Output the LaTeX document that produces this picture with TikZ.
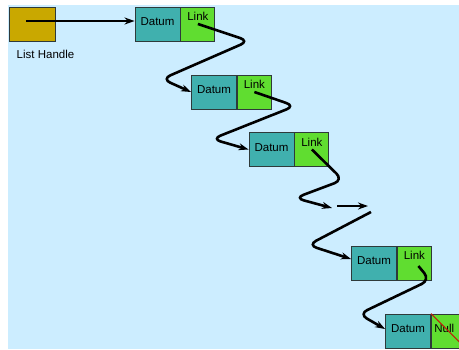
\documentclass[tikz,border=0pt]{standalone}
\usepackage{fontspec}
\setmainfont{Liberation Sans}
\usepackage{tikz}
\usetikzlibrary{arrows.meta}
\definecolor{llsky}{HTML}{CCEDFF}
\definecolor{llhandle}{HTML}{C9A800}
\definecolor{lldatum}{HTML}{40B0AE}
\definecolor{lllink}{HTML}{60DD30}
\definecolor{llink}{HTML}{2E3A3A}
\definecolor{llnull}{HTML}{C0200A}

\begin{document}
\begin{tikzpicture}[
  x=1pt, y=-1pt,
  cell/.style      = {rectangle, draw=llink, line width=0.9pt, inner xsep=0pt,
                      inner ysep=2pt, minimum height=34pt,
                      font=\fontsize{11.5}{13}\selectfont},
  handlebox/.style = {cell, fill=llhandle, minimum width=46pt},
  datum/.style     = {cell, fill=lldatum, minimum width=45pt,
                      text height=8pt, text depth=4.5pt},
  link/.style      = {cell, fill=lllink, minimum width=34pt, anchor=west,
                      text height=8pt, text depth=15pt},
  nullbox/.style   = {cell, fill=lllink, anchor=west, align=left,
                      text width=28pt, inner xsep=3pt,
                      text height=8pt, text depth=4.5pt},
  hop/.style       = {-{Stealth[length=10pt,width=7pt]}, draw=black,
                      line width=2.6pt, rounded corners=9pt},
  lab/.style       = {font=\fontsize{11.5}{13}\selectfont, inner sep=0pt},
]
\useasboundingbox (0,0) rectangle (459,349);
\clip (0,0) rectangle (459,349);
\fill[llsky] (8,5) rectangle (459,349);
% handle
\node[handlebox] (handle) at (32,24) {};
\node[lab] (hlab) at (45.5,54) {List Handle};
% the list cells
\node[datum] (d1) at (157.5,24) {Datum};
\node[link]  (l1) at (d1.east) {Link};
\node[datum] (d2) at (214,92) {Datum};
\node[link]  (l2) at (d2.east) {Link};
\node[datum] (d3) at (271.5,149.5) {Datum};
\node[link]  (l3) at (d3.east) {Link};
\node[datum] (d4) at (374,263) {Datum};
\node[link]  (l4) at (d4.east) {Link};
\node[datum] (d5) at (408,331) {Datum};
\node[nullbox] (l5) at (d5.east) {Null};
\draw[llnull, line width=1.2pt] (l5.north west) -- (l5.south east);
% elided part of the list
\coordinate (gapin)   at (332,208);
\coordinate (gapa)    at (337,206);
\coordinate (gapb)    at (368,206);
\coordinate (gapout)  at (371,212);
% pointers
\draw[hop] ([xshift=-6pt,yshift=3pt]handle.center) -- ([yshift=3pt]d1.west);
\draw[hop] (l1.center) -- (249,41) -- (162,79) -- (d2.west);
\draw[hop] (l2.center) -- (295,106) -- (212,139) -- (d3.west);
\draw[hop] (l3.center) -- (343,180) -- (295,198) -- (gapin);
\draw[hop] (gapa) -- (gapb);
\draw[hop] (gapout) -- (308,245) -- ([yshift=4pt]d4.west);
\draw[hop] ([xshift=4pt,yshift=-3pt]l4.center) -- (430,280) -- (359,314) -- ([yshift=2pt]d5.west);
\end{tikzpicture}
\end{document}
